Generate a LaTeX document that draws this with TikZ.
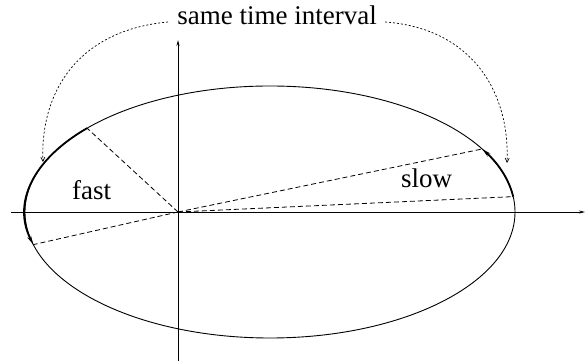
\documentclass[tikz,border=0pt]{standalone}
\usepackage{fontspec}
\setmainfont{Liberation Serif}
\usetikzlibrary{arrows.meta,calc}
\begin{document}
\begin{tikzpicture}[x=1pt,y=1pt,
  axis/.style={line width=0.9pt,-{Stealth[length=6pt,width=3pt]}},
  orbit/.style={line width=0.9pt},
  sweep/.style={line width=1.8pt,-{Stealth[length=9pt,width=4pt]}},
  radiusline/.style={line width=0.8pt,dash pattern=on 5pt off 3pt},
  hint/.style={line width=0.7pt,dash pattern=on 2pt off 2pt,-{Straight Barb[length=4pt,width=4pt]}},
  lbl/.style={font=\fontsize{27}{30}\selectfont,inner sep=0pt}]
\useasboundingbox (0,0) rectangle (585,363);
% centre of ellipse and origin of axes
\coordinate (C) at (270,151);
\coordinate (O) at (178,151);
% axes
\coordinate (xl) at (11,151);
\coordinate (xr) at (585,151);
\coordinate (yb) at (178,2);
\coordinate (yt) at (178,323);
% orbit
\draw[orbit] (C) ellipse [x radius=245, y radius=126];
\draw[axis] (xl) -- (xr);
\draw[axis] (yb) -- (yt);
% points on orbit
\coordinate (A1) at ($(C)+(138.3:245pt and 126pt)$);
\coordinate (A2) at ($(C)+(195:245pt and 126pt)$);
\coordinate (B1) at ($(C)+(7:245pt and 126pt)$);
\coordinate (B2) at ($(C)+(30:245pt and 126pt)$);
% swept arcs
\draw[sweep] (A1) arc[start angle=138.3, end angle=195, x radius=245pt, y radius=126pt];
\draw[sweep] (B1) arc[start angle=7, end angle=30, x radius=245pt, y radius=126pt];
% radius lines
\draw[radiusline] (O) -- (A1);
\draw[radiusline] (O) -- (A2);
\draw[radiusline] (O) -- (B1);
\draw[radiusline] (O) -- (B2);
% labels
\node[lbl,anchor=base] (title) at (277,338) {same time interval};
\node[lbl,anchor=base west] (fast) at (72,163) {fast};
\node[lbl,anchor=base west] (slow) at (401,175) {slow};
% dotted hint arrows
\coordinate (hl) at (168,341);
\coordinate (hle) at (43,201);
\coordinate (hr) at (385,341);
\coordinate (hre) at (507,200);
\draw[hint] (hl) .. controls (80,333) and (40,273) .. (hle);
\draw[hint] (hr) .. controls (470,335) and (510,273) .. (hre);
\end{tikzpicture}
\end{document}
